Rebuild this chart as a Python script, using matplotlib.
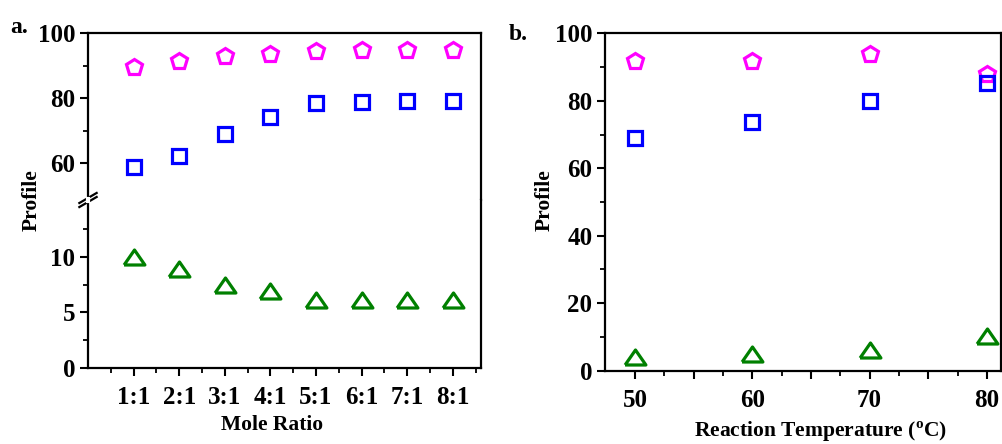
import numpy as np
import matplotlib
matplotlib.use("Agg")
import matplotlib.pyplot as plt

plt.rcParams['font.family'] = ['Liberation Serif', 'DejaVu Serif']
plt.rcParams['font.weight'] = 'bold'
plt.rcParams['mathtext.fontset'] = 'custom'
plt.rcParams['mathtext.rm'] = 'Liberation Serif:bold'
plt.rcParams['mathtext.bf'] = 'Liberation Serif:bold'

# --- data panel a (mole ratio) ---
ratio_labels = ["1:1", "2:1", "3:1", "4:1", "5:1", "6:1", "7:1", "8:1"]
ratio_pos = [1, 2, 3, 4, 5, 6, 7, 8]
ratio_pent = [89.6, 91.3, 93.0, 93.7, 94.5, 94.7, 94.9, 94.9]
ratio_square = [59.0, 62.2, 69.0, 74.1, 78.4, 78.7, 79.1, 79.1]
ratio_tri = [10.0, 8.9, 7.5, 6.9, 6.1, 6.1, 6.1, 6.1]

# --- data panel b (temperature) ---
temps = [50, 60, 70, 80]
temp_pent = [91.9, 91.9, 93.9, 88.0]
temp_square = [68.9, 73.8, 79.8, 85.4]
temp_tri = [4.2, 5.0, 6.1, 10.3]

MAG = '#FF00FF'
BLUE = '#0000FF'
GREEN = '#008000'
TRI = [(-1, -0.72), (1, -0.72), (0, 0.72), (-1, -0.72)]
TS = 18   # tick label size
LS = 15.5 # axis label size

fig = plt.figure(figsize=(10.02, 4.44), dpi=100)
W, H = 1002.0, 444.0


def box(x0, y0, x1, y1):
    # pixel box (top-left origin) -> figure fraction rect
    return [x0 / W, 1 - y1 / H, (x1 - x0) / W, (y1 - y0) / H]


def style(ax):
    for s in ax.spines.values():
        s.set_linewidth(1.6)
    ax.tick_params(which='major', direction='out', length=6, width=1.5,
                   labelsize=TS, pad=3)
    ax.tick_params(which='minor', direction='out', length=3.5, width=1.3)
    for lab in ax.get_xticklabels() + ax.get_yticklabels():
        lab.set_fontweight('bold')


def pts(ax, x, y_p, y_s, y_t):
    ax.plot(x, y_p, linestyle='none', marker='p', ms=12, mfc='none',
            mec=MAG, mew=2.3, clip_on=False)
    ax.plot(x, y_s, linestyle='none', marker='s', ms=9.5, mfc='none',
            mec=BLUE, mew=2.3, clip_on=False)
    ax.plot(x, y_t, linestyle='none', marker=TRI, ms=15, mfc='none',
            mec=GREEN, mew=2.3, clip_on=False)


# --- panel a: broken y axis ---
ax_top = fig.add_axes(box(88, 33, 481, 200))
ax_bot = fig.add_axes(box(88, 200, 481, 368))
for ax in (ax_top, ax_bot):
    pts(ax, ratio_pos, ratio_pent, ratio_square, ratio_tri)
    ax.set_xlim(0, 8.62)
    style(ax)

ax_top.set_ylim(48.8, 100)
ax_top.set_yticks([60, 80, 100])
ax_top.set_yticks([70, 90], minor=True)
ax_top.spines['bottom'].set_visible(False)
ax_top.tick_params(axis='x', which='both', bottom=False, labelbottom=False)

ax_bot.set_ylim(0, 15.1)
ax_bot.set_yticks([0, 5, 10])
ax_bot.set_yticks([2.5, 7.5, 12.5], minor=True)
ax_bot.spines['top'].set_visible(False)
ax_bot.set_xticks(ratio_pos)
ax_bot.set_xticklabels(ratio_labels, fontweight='bold')
ax_bot.set_xticks(np.arange(0.5, 8.6, 1.0), minor=True)
ax_bot.tick_params(axis='x', which='major', pad=7)

# break marks on left spine
for dy in (-0.012, 0.012):
    ax_bot.plot([-0.022, 0.022], [1 + dy - 0.03, 1 + dy + 0.03],
                transform=ax_bot.transAxes, color='black', lw=1.6,
                clip_on=False)
ax_bot.plot([0, 0], [0.995, 1.005], transform=ax_bot.transAxes,
            color='white', lw=3, clip_on=False, zorder=5)

fig.text(272 / W, 1 - 430 / H, "Mole Ratio", fontsize=LS, fontweight='bold',
         ha='center', va='baseline')
fig.text(32 / W, 1 - 200 / H, "Profile", fontsize=LS, fontweight='bold',
         rotation=90, ha='center', va='center')
fig.text(10 / W, 1 - 33 / H, "a.", fontsize=17, fontweight='bold',
         ha='left', va='baseline')

# --- panel b ---
axb = fig.add_axes(box(605, 33.3, 1001, 370.7))
pts(axb, temps, temp_pent, temp_square, temp_tri)
axb.set_xlim(47.45, 81.2)
axb.set_ylim(0, 100)
axb.set_yticks([0, 20, 40, 60, 80, 100])
axb.set_yticks([10, 30, 50, 70, 90], minor=True)
axb.set_xticks([50, 55, 60, 65, 70, 75, 80])
axb.set_xticklabels(["50", "", "60", "", "70", "", "80"])
axb.set_xticks(np.arange(52.5, 81, 5.0), minor=True)
style(axb)
axb.tick_params(axis='x', which='major', pad=7)

fig.text(821 / W, 1 - 437 / H,
         r"Reaction Temperature ($^{\mathrm{o}}$C)", fontsize=LS,
         fontweight='bold', ha='center', va='baseline')
fig.text(545 / W, 1 - 200 / H, "Profile", fontsize=LS, fontweight='bold',
         rotation=90, ha='center', va='center')
fig.text(509 / W, 1 - 40 / H, "b.", fontsize=17, fontweight='bold',
         ha='left', va='baseline')

fig.savefig("out.png", dpi=100)
